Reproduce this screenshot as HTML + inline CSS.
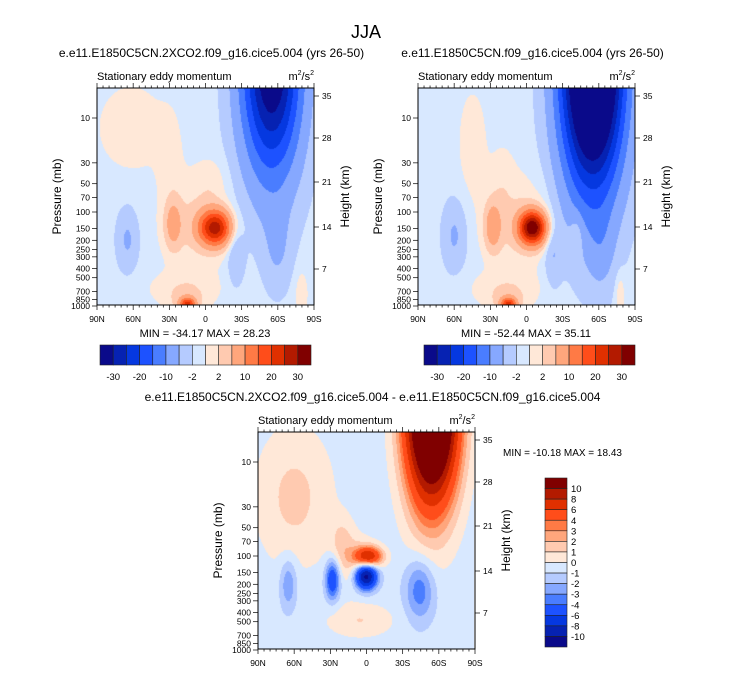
<!DOCTYPE html>
<html><head><meta charset="utf-8">
<style>
body{margin:0;background:#fff;width:733px;height:673px;overflow:hidden;font-family:"Liberation Sans",sans-serif;}
#root{position:relative;width:733px;height:673px;}
canvas{position:absolute;}
svg{position:absolute;left:0;top:0;}
</style></head>
<body>
<div id="root">
<canvas id="c1" width="217" height="217" style="left:97px;top:88px"></canvas>
<canvas id="c2" width="217" height="217" style="left:418px;top:88px"></canvas>
<canvas id="c3" width="216" height="217" style="left:258px;top:432px"></canvas>
<svg id="ov" width="733" height="673"></svg>
</div>
<script>
// ---- data ----
const levelsTop = [-30,-25,-20,-15,-10,-5,-2,0,2,5,10,15,20,25,30];
const levelsDiff = [-10,-8,-6,-4,-3,-2,-1,0,1,2,3,4,6,8,10];
const colors = ["#0a0a8a","#0622b2","#0538e0","#1d52ff","#4a7dff","#86a8ff","#b5cbff","#d8e8ff","#ffe8d8","#ffcab0","#ffa67c","#ff7a45","#ff4d1a","#e03000","#b31a00","#800000"];
const topCbLabels = ["-30","-20","-10","-2","2","10","20","30"];
const diffCbLabels = ["10","8","6","4","3","2","1","0","-1","-2","-3","-4","-6","-8","-10"];
const pressTicks = [10,30,50,70,100,150,200,250,300,400,500,700,850,1000];
const heightTicks = [35,28,21,14,7];
const heightOffsets = [8,50,94,139,181];
const latTicks = ["90N","60N","30N","0","30S","60S","90S"];
// blobs: [lat, yfrac, sxDeg, syFrac, amplitude]
const blobs1 = [
 [-55,-0.12,24,0.5,-36],[-8,0.645,13,0.08,27],[27,0.63,7,0.11,7],[65,0.7,9,0.14,-4.5],
 [-25,0.76,7,0.15,-4],[-60,0.74,11,0.2,-3.5],[15,1.0,6,0.03,20],[15,0.99,14,0.05,3],
 [8,0.62,28,0.22,3.2],[62,0.18,28,0.2,2.4],[30,0.3,10,0.2,1.8],[-80,0.95,5,0.1,3],[18,0.93,28,0.08,2.6],[-5,0.42,12,0.1,1.5]];
const blobs2 = [
 [-55,-0.12,25,0.56,-56],[-5,0.645,11,0.075,34],[28,0.64,7,0.11,8],[60,0.68,10,0.16,-4.5],
 [-22,0.76,7,0.15,-4],[-62,0.74,11,0.2,-3.5],[15,1.0,6,0.03,20],[15,0.99,14,0.05,3],
 [8,0.62,28,0.22,3.2],[45,0.25,12,0.25,2.2],[-42,0.68,5,0.1,4],[-78,0.95,4,0.1,3],[18,0.93,28,0.08,2.6],[20,0.4,10,0.15,1.5]];
const blobs3 = [
 [-55,-0.12,21,0.42,22],[-2,0.575,11,0.045,8],[0,0.665,9,0.06,-11],[28,0.68,6,0.09,-5.5],
 [65,0.7,7,0.12,-2.5],[-45,0.73,12,0.14,-3.2],[60,0.3,32,0.32,1.9],[5,0.87,28,0.08,1.6],[20,0.5,10,0.12,1.4],[8,0.6,18,0.12,1.8]];
const base1 = -1, base2 = -1, base3 = -0.6;

function levelIdx(v, lv){let i=0;for(const b of lv){if(v>b)i++;}return i;}
function hex(c){return [parseInt(c.substr(1,2),16),parseInt(c.substr(3,2),16),parseInt(c.substr(5,2),16)];}
const rgb = colors.map(hex);
function renderField(id, blobs, base, lv){
  const cv=document.getElementById(id), ctx=cv.getContext('2d');
  const W=cv.width,H=cv.height, img=ctx.createImageData(W,H);
  for(let j=0;j<H;j++){const y=j/(H-1);
    for(let i=0;i<W;i++){const lat=90-180*i/(W-1);
      let v=base;
      for(const b of blobs){const dx=(lat-b[0])/b[2],dy=(y-b[1])/b[3];v+=b[4]*Math.exp(-dx*dx-dy*dy);}
      const c=rgb[levelIdx(v,lv)],k=(j*W+i)*4;
      img.data[k]=c[0];img.data[k+1]=c[1];img.data[k+2]=c[2];img.data[k+3]=255;}}
  ctx.putImageData(img,0,0);
}
renderField('c1',blobs1,base1,levelsTop);
renderField('c2',blobs2,base2,levelsTop);
renderField('c3',blobs3,base3,levelsDiff);

const NS="http://www.w3.org/2000/svg", ov=document.getElementById('ov');
function el(tag,attrs,txt){const e=document.createElementNS(NS,tag);for(const k in attrs)e.setAttribute(k,attrs[k]);if(txt!==undefined)e.textContent=txt;ov.appendChild(e);return e;}
function text(x,y,s,size,anchor,name,extra){const t=el('text',Object.assign({x:x,y:y,'font-size':size,'text-anchor':anchor||'start',fill:'#000'},extra||{}),s);
 
 return t;}

function axes(x0,y0,title,n){
  const W=217,H=217,y10=y0+30;
  const fr=el('rect',{x:x0,y:y0,width:W,height:H,fill:'none',stroke:'#000','stroke-width':1});
  
  
  text(x0+W/2+6,y0-31,title,12,'middle','panel-title-'+n);
  text(x0,y0-8,'Stationary eddy momentum',11,'start','left-string-'+n);
  const u=text(x0+W,y0-8,'',11,'end','units-'+n);
  u.innerHTML='m<tspan dy="-5" font-size="7">2</tspan><tspan dy="5">/s</tspan><tspan dy="-5" font-size="7">2</tspan>';
  for(let d=0;d<=180;d+=5){const x=x0+W*d/180, major=d%30===0;
    el('line',{x1:x,x2:x,y1:y0+H,y2:y0+H+(major?5:2.5),stroke:'#000','stroke-width':0.7});
    el('line',{x1:x,x2:x,y1:y0,y2:y0-(major?5:2.5),stroke:'#000','stroke-width':0.7});}
  latTicks.forEach((l,k)=>{text(x0+W*k/6,y0+H+17,l,8.5,'middle','x-tick-'+l+'-'+n);});
  pressTicks.forEach(p=>{const y=y10+(Math.log10(p)-1)*94;
    el('line',{x1:x0-5,x2:x0,y1:y,y2:y,stroke:'#000','stroke-width':0.7});
    text(x0-7,y+3,String(p),8.5,'end','y-tick-'+p+'-'+n);});
  heightTicks.forEach((h,k)=>{const y=y0+heightOffsets[k];
    el('line',{x1:x0+W,x2:x0+W+5,y1:y,y2:y,stroke:'#000','stroke-width':0.7});
    text(x0+W+8,y+3,String(h),8.5,'start','height-tick-'+h+'-'+n);});
  text(0,0,'Pressure (mb)',12,'middle','y-axis-title-'+n,{transform:`translate(${x0-36},${y0+H/2}) rotate(-90)`});
  text(0,0,'Height (km)',12,'middle','right-axis-title-'+n,{transform:`translate(${x0+W+35},${y0+H/2}) rotate(-90)`});
}
text(366,38,'JJA',18,'middle','figure-title');
axes(97,88,'e.e11.E1850C5CN.2XCO2.f09_g16.cice5.004 (yrs 26-50)','a');
axes(418,88,'e.e11.E1850C5CN.f09_g16.cice5.004 (yrs 26-50)','b');
axes(258,432,'e.e11.E1850C5CN.2XCO2.f09_g16.cice5.004 - e.e11.E1850C5CN.f09_g16.cice5.004','c');
text(205,337,'MIN = -34.17  MAX =  28.23',11,'middle','minmax-a',{'xml:space':'preserve'});
text(526,337,'MIN = -52.44  MAX =  35.11',11,'middle','minmax-b',{'xml:space':'preserve'});
text(503,456,'MIN = -10.18  MAX =  18.43',10,'start','minmax-c',{'xml:space':'preserve'});

function hbar(x0,y0,n){const w=211/16;
  colors.forEach((c,k)=>{const r=el('rect',{x:x0+k*w,y:y0,width:w,height:20,fill:c,stroke:'#222','stroke-width':0.6});
    
    });
  topCbLabels.forEach((l,k)=>{text(x0+(2*k+1)*w,y0+35,l,9.5,'middle','colorbar-label-'+n+'-'+k);});}
hbar(100,345,'a'); hbar(424,345,'b');
(function(){const x0=545,y0=478,h=169/16;
  colors.slice().reverse().forEach((c,k)=>{const r=el('rect',{x:x0,y:y0+k*h,width:22,height:h,fill:c,stroke:'#222','stroke-width':0.6});
    
    });
  diffCbLabels.forEach((l,k)=>{text(x0+26,y0+(k+1)*h+3.5,l,9.5,'start','colorbar-label-c-'+k);});})();
</script>
</body></html>
